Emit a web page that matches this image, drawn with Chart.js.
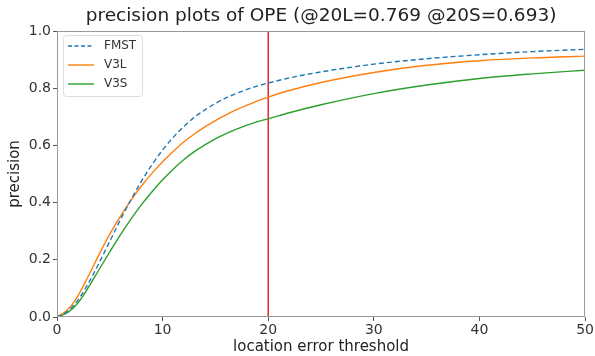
<!DOCTYPE html>
<html lang="en">
<head>
    <meta charset="UTF-8">
    <title>precision plots of OPE</title>
    <script src="https://cdn.jsdelivr.net/npm/chart.js"></script>
    <style>
        html, body { margin: 0; padding: 0; background: #fff; }
        #wrap { width: 595px; height: 356px; }
    </style>
</head>
<body>
    <div id="wrap"><canvas id="chart" width="595" height="356"></canvas></div>

    <script>
        // location error thresholds (x)
        const thresholds = [0, 1, 2, 3, 4, 5, 6, 7, 8, 9, 10, 11, 12, 13, 14, 15, 16, 17, 18, 19, 20, 22, 25, 30, 35, 40, 45, 50];
        // precision values
        const fmst = [0, 0.02, 0.06, 0.12, 0.19, 0.265, 0.34, 0.41, 0.475, 0.533, 0.584, 0.628, 0.666, 0.698, 0.724, 0.747, 0.766, 0.782, 0.796, 0.808, 0.818, 0.836, 0.857, 0.884, 0.903, 0.917, 0.928, 0.936];
        const v3l = [0, 0.025, 0.075, 0.145, 0.22, 0.29, 0.352, 0.408, 0.458, 0.503, 0.543, 0.579, 0.612, 0.64, 0.665, 0.687, 0.707, 0.725, 0.741, 0.756, 0.769, 0.792, 0.82, 0.855, 0.88, 0.896, 0.906, 0.912];
        const v3s = [0, 0.015, 0.05, 0.105, 0.167, 0.228, 0.287, 0.342, 0.393, 0.438, 0.48, 0.517, 0.55, 0.578, 0.602, 0.623, 0.641, 0.657, 0.671, 0.683, 0.693, 0.714, 0.742, 0.781, 0.811, 0.834, 0.85, 0.863];
        const seriesNames = ['FMST', 'V3L', 'V3S'];
        const xTicks = [0, 10, 20, 30, 40, 50];
        const yTicks = [0, 0.2, 0.4, 0.6, 0.8, 1.0];
        const markerX = 20;
        const titleText = 'precision plots of OPE (@20L=0.769 @20S=0.693)';

        const colors = ['#1f77b4', '#ff7f0e', '#2ca02c'];
        const font = "'DejaVu Sans', sans-serif";

        function toPoints(ys) {
            return thresholds.map((x, i) => ({ x: x, y: ys[i] }));
        }

        // box around the plot, title over the plot, legend in the upper left corner
        const frame = {
            id: 'frame',
            afterDatasetsDraw(chart) {
                const { ctx, chartArea: a } = chart;
                ctx.save();
                ctx.strokeStyle = '#999';
                ctx.lineWidth = 1;
                ctx.strokeRect(a.left + 0.5, a.top + 0.5, a.right - a.left - 1, a.bottom - a.top - 1);

                ctx.fillStyle = '#222';
                ctx.font = '18.5px ' + font;
                ctx.textAlign = 'center';
                ctx.textBaseline = 'middle';
                ctx.fillText(titleText, (a.left + a.right) / 2, 16);

                // legend
                const bx = a.left + 6, by = a.top + 4, bw = 79, bh = 61;
                ctx.fillStyle = 'rgba(255,255,255,0.85)';
                ctx.strokeStyle = '#ddd';
                ctx.beginPath();
                ctx.roundRect(bx + 0.5, by + 0.5, bw, bh, 3);
                ctx.fill();
                ctx.stroke();
                ctx.font = '12px ' + font;
                ctx.textAlign = 'left';
                seriesNames.forEach((name, i) => {
                    const y = by + 11 + i * 19;
                    ctx.strokeStyle = colors[i];
                    ctx.lineWidth = 1.4;
                    ctx.setLineDash(i === 0 ? [4, 2.5] : []);
                    ctx.beginPath();
                    ctx.moveTo(bx + 5, y);
                    ctx.lineTo(bx + 31, y);
                    ctx.stroke();
                    ctx.setLineDash([]);
                    ctx.fillStyle = '#333';
                    ctx.fillText(name, bx + 41, y);
                });
                ctx.restore();
            }
        };

        new Chart(document.getElementById('chart'), {
            type: 'line',
            data: {
                datasets: [
                    {
                        label: seriesNames[0],
                        data: toPoints(fmst),
                        borderColor: colors[0],
                        borderWidth: 1.4,
                        borderDash: [5, 3],
                        cubicInterpolationMode: 'monotone',
                        pointRadius: 0
                    },
                    {
                        label: seriesNames[1],
                        data: toPoints(v3l),
                        borderColor: colors[1],
                        borderWidth: 1.4,
                        cubicInterpolationMode: 'monotone',
                        pointRadius: 0
                    },
                    {
                        label: seriesNames[2],
                        data: toPoints(v3s),
                        borderColor: colors[2],
                        borderWidth: 1.4,
                        cubicInterpolationMode: 'monotone',
                        pointRadius: 0
                    },
                    {
                        label: 'threshold',
                        data: [{ x: markerX, y: 0 }, { x: markerX, y: 1 }],
                        borderColor: '#e0282a',
                        borderWidth: 1.5,
                        pointRadius: 0
                    }
                ]
            },
            options: {
                responsive: false,
                animation: false,
                layout: { padding: { left: 0, right: 8, top: 31, bottom: 0 } },
                plugins: {
                    legend: { display: false },
                    tooltip: { enabled: false },
                    title: { display: false }
                },
                scales: {
                    x: {
                        type: 'linear',
                        min: 0,
                        max: 50,
                        afterBuildTicks: s => { s.ticks = xTicks.map(v => ({ value: v })); },
                        afterFit: s => { s.height = 39; },
                        grid: { drawOnChartArea: false, tickLength: 4, color: '#555' },
                        border: { display: false },
                        ticks: { color: '#333', font: { family: font, size: 14 }, padding: 1, maxRotation: 0 },
                        title: {
                            display: true,
                            text: 'location error threshold',
                            color: '#222',
                            font: { family: font, size: 15 },
                            padding: { top: 0, bottom: 0 }
                        }
                    },
                    y: {
                        min: 0,
                        max: 1,
                        afterBuildTicks: s => { s.ticks = yTicks.map(v => ({ value: v })); },
                        afterFit: s => { s.width = 57; },
                        grid: { drawOnChartArea: false, tickLength: 4, color: '#555' },
                        border: { display: false },
                        ticks: {
                            color: '#333',
                            font: { family: font, size: 14 },
                            padding: 2,
                            callback: v => v.toFixed(1)
                        },
                        title: {
                            display: true,
                            text: 'precision',
                            color: '#222',
                            font: { family: font, size: 15 },
                            padding: { top: 6, bottom: 2 }
                        }
                    }
                }
            },
            plugins: [frame]
        });
    </script>
</body>
</html>
